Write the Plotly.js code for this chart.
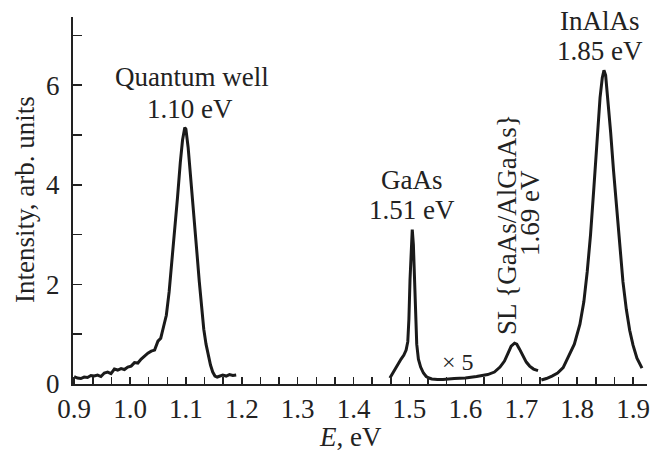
<!DOCTYPE html>
<html>
<head>
<meta charset="utf-8">
<script src="https://cdn.plot.ly/plotly-3.0.1.min.js"></script>
<style>html,body{margin:0;padding:0;background:#fff;}#chart{width:661px;height:453px;}</style>
</head>
<body>
<div id="chart"></div>
<script>
// Quantum well segment
var qwE = [0.900,0.906,0.912,0.918,0.924,0.930,0.936,0.942,0.948,0.954,0.960,0.966,0.972,0.978,0.984,0.990,0.996,1.002,1.008,1.014,1.020,1.026,1.032,1.038,1.044,1.050,1.055,1.060,1.065,1.070,1.075,1.080,1.085,1.090,1.094,1.098,1.100,1.104,1.108,1.112,1.116,1.120,1.124,1.128,1.132,1.136,1.140,1.144,1.148,1.152,1.156,1.160,1.166,1.172,1.178,1.184,1.190];
var qwI = [0.15,0.12,0.11,0.14,0.13,0.17,0.16,0.18,0.15,0.22,0.24,0.21,0.30,0.28,0.31,0.29,0.34,0.36,0.43,0.42,0.50,0.56,0.62,0.66,0.68,0.86,0.92,1.15,1.38,1.85,2.45,3.05,3.75,4.45,4.90,5.15,5.12,4.75,4.25,3.75,3.20,2.60,2.05,1.55,1.10,0.80,0.55,0.38,0.24,0.16,0.14,0.15,0.18,0.16,0.19,0.17,0.18];
// GaAs + superlattice segment (x5)
var gaE = [1.465,1.470,1.475,1.480,1.485,1.490,1.494,1.497,1.499,1.501,1.503,1.505,1.507,1.509,1.511,1.513,1.516,1.520,1.525,1.530,1.535,1.540,1.550,1.560,1.580,1.600,1.620,1.640,1.652,1.662,1.670,1.676,1.682,1.688,1.692,1.697,1.703,1.709,1.715,1.722,1.730];
var gaI = [0.12,0.22,0.32,0.42,0.50,0.58,0.68,0.85,1.30,2.10,2.85,3.10,2.80,2.00,1.20,0.80,0.50,0.34,0.22,0.15,0.12,0.10,0.09,0.09,0.11,0.12,0.15,0.19,0.24,0.34,0.46,0.62,0.76,0.82,0.80,0.70,0.56,0.44,0.36,0.30,0.27];
// InAlAs segment
var inE = [1.736,1.745,1.755,1.765,1.775,1.785,1.795,1.805,1.812,1.818,1.824,1.830,1.836,1.841,1.845,1.848,1.851,1.855,1.860,1.865,1.870,1.876,1.882,1.888,1.894,1.900,1.907,1.916];
var inI = [0.08,0.11,0.16,0.22,0.33,0.55,0.80,1.20,1.65,2.25,3.00,3.95,5.00,5.75,6.15,6.30,6.20,5.75,5.05,4.30,3.60,2.75,2.05,1.50,1.08,0.78,0.52,0.32];

var tickLabels = ['0.9','1.0','1.1','1.2','1.3','1.4','1.5','1.6','1.7','1.8','1.9'];
var tickVals = [0.9,1.0,1.1,1.2,1.3,1.4,1.5,1.6,1.7,1.8,1.9];

var line = {color:'#1a1a1a', width:3};
var traces = [
  {x:qwE, y:qwI, mode:'lines', line:line, hoverinfo:'skip'},
  {x:gaE, y:gaI, mode:'lines', line:line, hoverinfo:'skip'},
  {x:inE, y:inI, mode:'lines', line:line, hoverinfo:'skip'}
];

var F = 'Liberation Serif, Times New Roman, serif';
var fnt = {family:F, size:27, color:'#222'};
var tfnt = {family:F, size:27, color:'#222'};

function A(text, px, py, extra){
  var a = {text:text, x:px, y:py, xref:'paper', yref:'paper', showarrow:false, font:fnt, xanchor:'center', yanchor:'middle'};
  for (var k in extra) a[k] = extra[k];
  return a;
}

var layout = {
  width:661, height:453,
  margin:{l:73, r:14, t:17, b:69},
  paper_bgcolor:'#fff', plot_bgcolor:'#fff',
  showlegend:false,
  font:fnt,
  xaxis:{
    range:[0.898,1.925], showgrid:false, zeroline:false,
    showline:true, linecolor:'#222', linewidth:2,
    ticks:'inside', ticklen:7, tickwidth:1.5, tickcolor:'#222',
    tickmode:'array', tickvals:tickVals, ticktext:tickLabels,
    ticklabelstandoff:0,
    minor:{tickmode:'linear', tick0:0.9, dtick:0.1/3, ticks:'inside', ticklen:7, tickwidth:1.5, tickcolor:'#222', showgrid:false},
    tickfont:tfnt
  },
  yaxis:{
    range:[0,7.37], showgrid:false, zeroline:false,
    showline:true, linecolor:'#222', linewidth:2,
    ticks:'inside', ticklen:9, tickwidth:1.5, tickcolor:'#222',
    tickmode:'linear', tick0:0, dtick:2,
    ticklabelstandoff:6,
    minor:{tickmode:'linear', tick0:1, dtick:2, ticks:'inside', ticklen:9, tickwidth:1.5, tickcolor:'#222', showgrid:false},
    tickfont:tfnt
  },
  annotations:[
    A('Quantum well', 192, 77),
    A('1.10 eV', 190, 109),
    A('GaAs', 412, 180),
    A('1.51 eV', 412, 210),
    A('SL {GaAs/AlGaAs}', 507, 225, {textangle:-90}),
    A('1.69 eV', 530, 213, {textangle:-90}),
    A('InAlAs', 600, 21),
    A('1.85 eV', 600, 51),
    A('× 5', 458, 362, {font:{family:F, size:24, color:'#222'}}),
    A('Intensity, arb. units', 25, 200, {textangle:-90}),
    A('<i>E</i>, eV', 350, 437)
  ]
};
// convert pixel positions to paper fractions
var pw = 661-73-14, ph = 453-17-69;
layout.annotations.forEach(function(a){
  a.x = (a.x-73)/pw; a.y = (453-69-a.y)/ph;
});

Plotly.newPlot('chart', traces, layout, {staticPlot:true, displayModeBar:false});
</script>
</body>
</html>
